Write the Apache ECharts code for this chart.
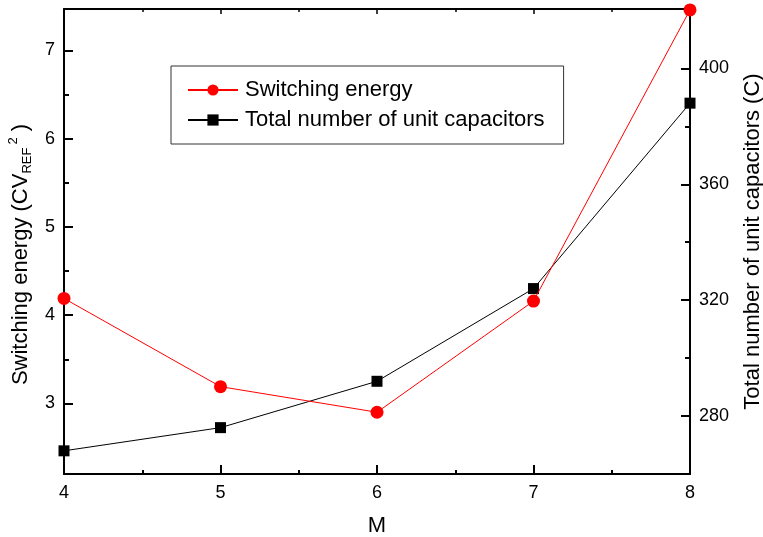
<!DOCTYPE html>
<html>
<head>
<meta charset="utf-8">
<title>Switching energy vs M</title>
<script src="https://cdn.jsdelivr.net/npm/echarts@6/dist/echarts.min.js"></script>
<style>
  html, body { margin: 0; padding: 0; background: #fff; }
  #chart { width: 763px; height: 537px; }
</style>
</head>
<body>
<div id="chart"></div>
<script>
// datos
const valoresM = [4, 5, 6, 7, 8];
const energia = [4.19, 3.19, 2.90, 4.16, 7.46];
const capacitores = [268, 276, 292, 324, 388];

const ticksEnergia = [3, 4, 5, 6, 7];
const menoresEnergia = [2.5, 3.5, 4.5, 5.5, 6.5, 7.5];
const ticksCap = [280, 320, 360, 400];
const menoresCap = [300, 340, 380, 420];

const fuente = 'Liberation Sans, Arial, sans-serif';

const chart = echarts.init(document.getElementById('chart'), null, { renderer: 'canvas' });

const lineaEje = { show: true, onZero: false, lineStyle: { color: '#000', width: 2 } };

function ejeY(opts) {
  return Object.assign({
    type: 'value',
    axisLine: lineaEje,
    splitLine: { show: false },
    axisTick: { show: true, inside: true, length: 9, lineStyle: { color: '#000', width: 2 } },
    axisLabel: { color: '#000', fontSize: 18, fontFamily: fuente, margin: 9 }
  }, opts);
}

const option = {
  animation: false,
  textStyle: { fontFamily: fuente },
  grid: { left: 64, right: 73, top: 9, bottom: 63, containLabel: false, outerBoundsMode: 'none' },
  legend: {
    orient: 'vertical',
    left: 171,
    top: 66,
    width: 393,
    padding: [13, 19, 13, 16],
    itemGap: 8,
    itemWidth: 50,
    itemHeight: 14,
    borderColor: '#333',
    borderWidth: 1,
    textStyle: { fontSize: 22, color: '#000', fontFamily: fuente, padding: [0, 0, 0, 2] },
    data: ['Switching energy', 'Total number of unit capacitors']
  },
  xAxis: [
    {
      type: 'value',
      min: 4,
      max: 8,
      interval: 1,
      name: 'M',
      nameLocation: 'middle',
      nameGap: 41,
      nameTextStyle: { fontSize: 22, color: '#000', fontFamily: fuente, lineHeight: 22 },
      axisLine: lineaEje,
      splitLine: { show: false },
      axisTick: { show: true, inside: true, length: 9, lineStyle: { color: '#000', width: 2 } },
      minorTick: { show: true, splitNumber: 2, length: 4, lineStyle: { color: '#000', width: 2 } },
      axisLabel: { color: '#000', fontSize: 18, fontFamily: fuente, margin: 10 }
    },
    {
      type: 'value',
      position: 'top',
      min: 4,
      max: 8,
      interval: 1,
      axisLine: lineaEje,
      splitLine: { show: false },
      axisTick: { show: true, inside: true, length: 5, lineStyle: { color: '#000', width: 1.5 } },
      minorTick: { show: true, splitNumber: 2, length: 3, lineStyle: { color: '#000', width: 1.5 } },
      axisLabel: { show: false }
    }
  ],
  yAxis: [
    ejeY({
      position: 'left',
      min: 2.2,
      max: 7.47,
      name: 'Switching energy (CV{sub|REF}{sup|2} )',
      nameLocation: 'middle',
      nameGap: 31,
      nameTextStyle: {
        fontSize: 22, color: '#000', fontFamily: fuente, lineHeight: 27, verticalAlign: 'middle',
        padding: [0, 26, 0, 0],
        rich: {
          sub: { fontSize: 13, lineHeight: 12, verticalAlign: 'bottom', color: '#000', fontFamily: fuente },
          sup: { fontSize: 13, lineHeight: 12, verticalAlign: 'top', color: '#000', fontFamily: fuente, padding: [0, 0, 0, 3] }
        }
      },
      axisTick: { show: true, inside: true, length: 9, customValues: ticksEnergia, lineStyle: { color: '#000', width: 2 } },
      axisLabel: { color: '#000', fontSize: 18, fontFamily: fuente, margin: 9, customValues: ticksEnergia }
    }),
    ejeY({
      position: 'right',
      min: 260,
      max: 420.5,
      name: 'Total number of unit capacitors (C)',
      nameLocation: 'middle',
      nameGap: 52,
      nameTextStyle: { fontSize: 22, color: '#000', fontFamily: fuente, lineHeight: 22 },
      axisTick: { show: true, inside: true, length: 9, customValues: ticksCap, lineStyle: { color: '#000', width: 2 } },
      axisLabel: { color: '#000', fontSize: 18, fontFamily: fuente, margin: 9, customValues: ticksCap }
    }),
    // ejes auxiliares solo para las marcas menores
    ejeY({
      position: 'left',
      min: 2.2,
      max: 7.47,
      axisLine: { show: false },
      axisTick: { show: true, inside: true, length: 5, customValues: menoresEnergia, lineStyle: { color: '#000', width: 2 } },
      axisLabel: { show: false }
    }),
    ejeY({
      position: 'right',
      min: 260,
      max: 420.5,
      axisLine: { show: false },
      axisTick: { show: true, inside: true, length: 5, customValues: menoresCap, lineStyle: { color: '#000', width: 2 } },
      axisLabel: { show: false }
    })
  ],
  series: [
    {
      name: 'Total number of unit capacitors',
      type: 'line',
      yAxisIndex: 1,
      data: valoresM.map((m, i) => [m, capacitores[i]]),
      symbol: 'rect',
      symbolSize: 11,
      itemStyle: { color: '#000' },
      lineStyle: { color: '#000', width: 1 },
      z: 3
    },
    {
      name: 'Switching energy',
      type: 'line',
      yAxisIndex: 0,
      data: valoresM.map((m, i) => [m, energia[i]]),
      symbol: 'circle',
      symbolSize: 13,
      itemStyle: { color: '#ff0000' },
      lineStyle: { color: '#ff0000', width: 1 },
      z: 4
    }
  ]
};

chart.setOption(option);

window.addEventListener('resize', function() {
  chart.resize();
});
</script>
</body>
</html>
